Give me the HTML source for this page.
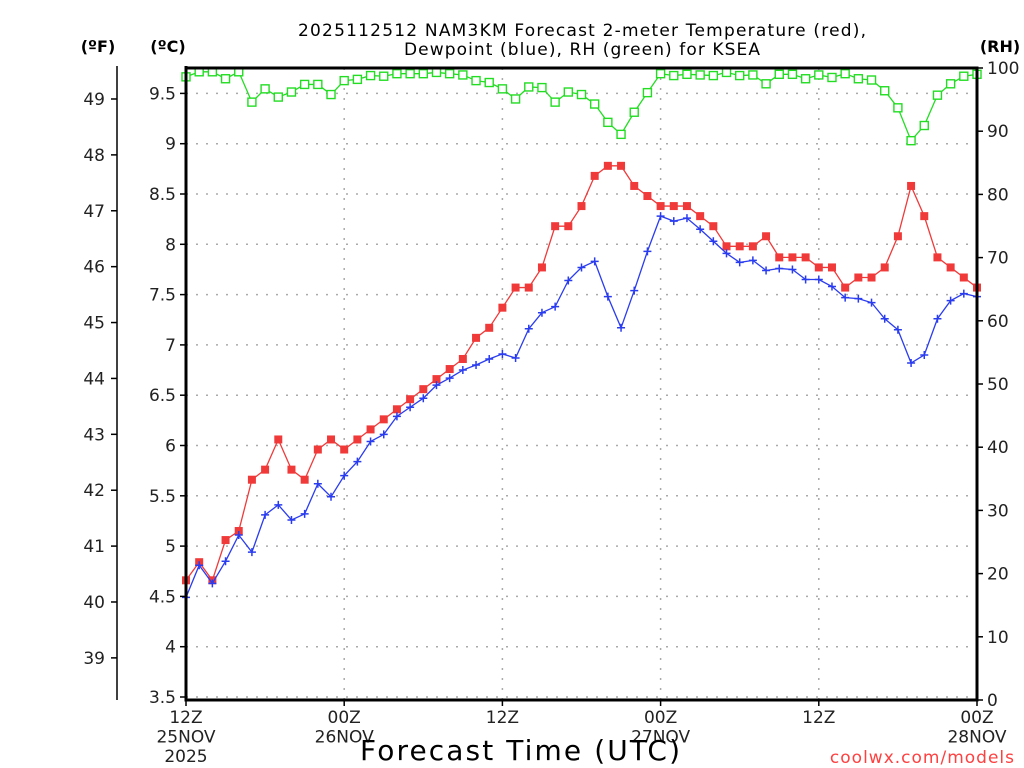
<!DOCTYPE html>
<html><head><meta charset="utf-8"><style>
html,body{margin:0;padding:0;background:#fff;}
svg{display:block;font-family:"DejaVu Sans","Liberation Sans",sans-serif;}
</style></head><body>
<svg id="chart" width="1024" height="768" viewBox="0 0 1024 768" xmlns="http://www.w3.org/2000/svg">
<g id="grid"></g>
<g id="series"></g>
<g id="axes"></g>
<text x="582" y="36" font-size="17" text-anchor="middle" fill="#000" textLength="568" lengthAdjust="spacing">2025112512 NAM3KM Forecast 2-meter Temperature (red),</text>
<text x="582" y="55" font-size="17" text-anchor="middle" fill="#000" textLength="356" lengthAdjust="spacing">Dewpoint (blue), RH (green) for KSEA</text>
<text x="98" y="52" font-size="16" font-weight="bold" text-anchor="middle">(ºF)</text>
<text x="168" y="52" font-size="16" font-weight="bold" text-anchor="middle">(ºC)</text>
<text x="1000" y="52" font-size="16" font-weight="bold" text-anchor="middle">(RH)</text>
<text x="520" y="760" font-size="28" text-anchor="middle" textLength="320" lengthAdjust="spacing">Forecast Time (UTC)</text>
<text x="1015" y="763" font-size="17" text-anchor="end" fill="#ff4040" letter-spacing="1">coolwx.com/models</text>
</svg>
<script>
const temps=[4.66,4.84,4.66,5.06,5.15,5.66,5.76,6.06,5.76,5.66,5.96,6.06,5.96,6.06,6.16,6.26,6.36,6.46,6.56,6.66,6.76,6.86,7.07,7.17,7.37,7.57,7.57,7.77,8.18,8.18,8.38,8.68,8.78,8.78,8.58,8.48,8.38,8.38,8.38,8.28,8.18,7.98,7.98,7.98,8.08,7.87,7.87,7.87,7.77,7.77,7.57,7.67,7.67,7.77,8.08,8.58,8.28,7.87,7.77,7.67,7.57];
const dewpoints=[4.49,4.81,4.63,4.85,5.11,4.94,5.31,5.41,5.26,5.32,5.62,5.49,5.70,5.84,6.04,6.11,6.29,6.38,6.47,6.60,6.67,6.75,6.80,6.86,6.91,6.87,7.16,7.32,7.38,7.64,7.77,7.83,7.48,7.17,7.54,7.93,8.28,8.23,8.26,8.15,8.03,7.91,7.82,7.84,7.74,7.76,7.75,7.65,7.65,7.58,7.47,7.46,7.42,7.26,7.15,6.82,6.90,7.26,7.44,7.51,7.48];
const rh=[98.6,99.4,99.4,98.3,99.4,94.6,96.7,95.4,96.2,97.4,97.4,95.8,98,98.2,98.8,98.7,99.1,99.1,99.1,99.3,99.1,98.9,98,97.7,96.7,95.1,97,96.9,94.6,96.2,95.8,94.3,91.4,89.5,93,96.1,99.1,98.8,99,98.9,98.8,99.3,98.8,98.9,97.5,99,99,98.3,98.9,98.5,99.1,98.3,98.1,96.4,93.7,88.5,90.9,95.7,97.5,98.7,99];
const celsiusTicks=[3.5,4,4.5,5,5.5,6,6.5,7,7.5,8,8.5,9,9.5];
const fahrenheitTicks=[39,40,41,42,43,44,45,46,47,48,49];
const rhTicks=[0,10,20,30,40,50,60,70,80,90,100];
const timeTicks=[0,12,24,36,48,60];
const timeLabels=[["12Z","25NOV","2025"],["00Z","26NOV"],["12Z"],["00Z","27NOV"],["12Z"],["00Z","28NOV"]];

const L=186,R=977,T=68,B=700;
const xs=h=>L+(R-L)*h/60;
const yC=c=>697-(c-3.5)*100.6;
const yRH=v=>B-(B-T)*v/100;
const NS="http://www.w3.org/2000/svg";
function mk(parent,tag,attrs){const e=document.createElementNS(NS,tag);for(const k in attrs)e.setAttribute(k,attrs[k]);document.getElementById(parent).appendChild(e);return e;}

celsiusTicks.forEach(c=>{
  const g=mk('grid','line',{x1:L,x2:R,y1:yC(c),y2:yC(c),stroke:'#aaa','stroke-width':1.5,'stroke-dasharray':'2,8'});
  
  
});
timeTicks.forEach(h=>{
  if(h===0||h===60)return;
  const g=mk('grid','line',{x1:xs(h),x2:xs(h),y1:T,y2:B,stroke:'#aaa','stroke-width':1.5,'stroke-dasharray':'2,8'});
  
  
});

function series(vals,yf,color,name,marker){
  const pts=vals.map((v,i)=>xs(i)+','+yf(v)).join(' ');
  const pl=mk('series','polyline',{points:pts,fill:'none',stroke:color,'stroke-width':1.3});
  
  
  vals.forEach((v,i)=>{
    const x=xs(i),y=yf(v);let m;
    if(marker==='fill'){m=mk('series','rect',{x:x-4,y:y-4,width:8,height:8,fill:color});}
    else if(marker==='open'){m=mk('series','rect',{x:x-4,y:y-4,width:8,height:8,fill:'#fff',stroke:color,'stroke-width':1.4});}
    else{m=mk('series','path',{d:`M${x-4},${y}H${x+4}M${x},${y-4}V${y+4}`,stroke:color,'stroke-width':1.5});}
    
    
  });
}
series(rh,yRH,'#22dd22','rh','open');
series(temps,yC,'#f03a3a','temperature','fill');
series(dewpoints,yC,'#2a3cf0','dewpoint','plus');

const fr=mk('axes','path',{d:`M${L},${T-2}V${B}H${R}V${T}H${L}`,fill:'none',stroke:'#000','stroke-width':3});


const fl=mk('axes','line',{x1:117,x2:117,y1:66,y2:700,stroke:'#000','stroke-width':1.5});



celsiusTicks.forEach(c=>{
  const t=mk('axes','line',{x1:L-6,x2:L,y1:yC(c),y2:yC(c),stroke:'#000','stroke-width':1.5});
  
  
  const lb=mk('axes','text',{x:L-10,y:yC(c)+6,'font-size':17,'text-anchor':'end',fill:'#222'});
  lb.textContent=String(c);
  
  
});
fahrenheitTicks.forEach(f=>{
  const y=yC((f-32)*5/9);
  const t=mk('axes','line',{x1:111,x2:117,y1:y,y2:y,stroke:'#000','stroke-width':1.5});
  
  
  const lb=mk('axes','text',{x:105,y:y+6,'font-size':17,'text-anchor':'end',fill:'#222'});
  lb.textContent=String(f);
  
  
});
rhTicks.forEach(v=>{
  const t=mk('axes','line',{x1:R,x2:R+6,y1:yRH(v),y2:yRH(v),stroke:'#000','stroke-width':1.5});
  
  
  const lb=mk('axes','text',{x:R+10,y:yRH(v)+6,'font-size':17,'text-anchor':'start',fill:'#222'});
  lb.textContent=String(v);
  
  
});
timeTicks.forEach((h,i)=>{
  const t=mk('axes','line',{x1:xs(h),x2:xs(h),y1:B,y2:B+6,stroke:'#000','stroke-width':1.5});
  
  
  timeLabels[i].forEach((s,j)=>{
    const lb=mk('axes','text',{x:xs(h),y:723+j*19.5,'font-size':17,'text-anchor':'middle',fill:'#222'});
    lb.textContent=s;
    
    
  });
});
</script>
</body></html>
